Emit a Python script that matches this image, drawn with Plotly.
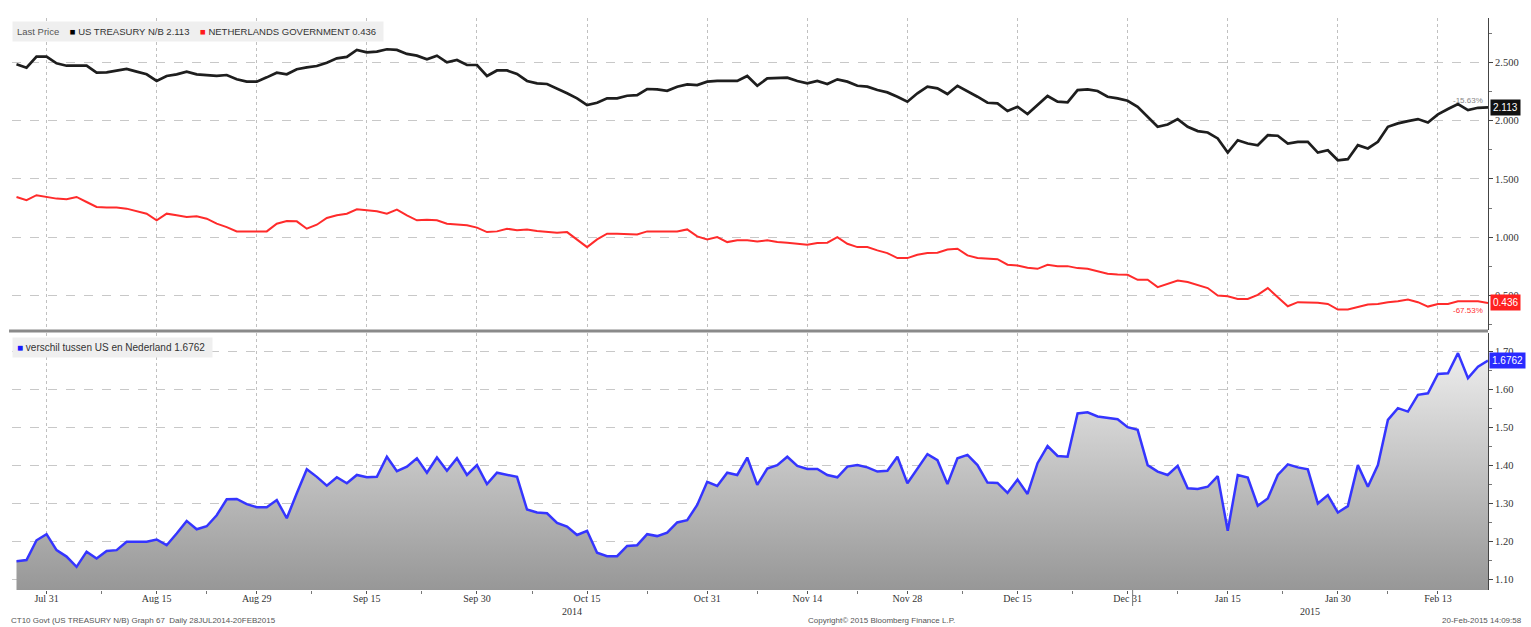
import pandas as pd
import plotly.graph_objects as go

# ---------------- data ----------------
holidays = ["2014-12-25", "2015-01-01"]
dates = [d for d in pd.bdate_range("2014-07-28", "2015-02-20").strftime("%Y-%m-%d") if d not in holidays]

us_yield = [
    2.483, 2.454, 2.549, 2.549, 2.491, 2.471, 2.471, 2.471, 2.411, 2.414,
    2.428, 2.443, 2.420, 2.397, 2.340, 2.383, 2.397, 2.420, 2.397, 2.391,
    2.383, 2.391, 2.354, 2.334, 2.334, 2.371, 2.411, 2.397, 2.440, 2.457,
    2.468, 2.497, 2.534, 2.546, 2.606, 2.586, 2.592, 2.612, 2.606, 2.572,
    2.557, 2.526, 2.557, 2.500, 2.520, 2.477, 2.477, 2.383, 2.430, 2.430,
    2.400, 2.340, 2.319, 2.314, 2.277, 2.234, 2.191, 2.133, 2.153, 2.191,
    2.191, 2.213, 2.219, 2.271, 2.268, 2.256, 2.291, 2.311, 2.305, 2.334,
    2.340, 2.340, 2.340, 2.383, 2.299, 2.362, 2.368, 2.368, 2.340, 2.319,
    2.340, 2.314, 2.354, 2.334, 2.299, 2.291, 2.262, 2.242, 2.205, 2.162,
    2.234, 2.291, 2.277, 2.228, 2.299, 2.254, 2.205, 2.153, 2.148, 2.082,
    2.119, 2.056, 2.133, 2.211, 2.162, 2.156, 2.262, 2.268, 2.254, 2.205,
    2.191, 2.170, 2.119, 2.033, 1.947, 1.967, 2.013, 1.947, 1.910, 1.898,
    1.847, 1.726, 1.832, 1.804, 1.789, 1.875, 1.870, 1.804, 1.818, 1.818,
    1.726, 1.746, 1.660, 1.669, 1.789, 1.761, 1.818, 1.947, 1.976, 1.996,
    2.013, 1.984, 2.053, 2.099, 2.142, 2.090, 2.110, 2.113,
]

nl_yield = [
    1.345, 1.317, 1.360, 1.345, 1.331, 1.325, 1.345, 1.302, 1.259, 1.254,
    1.254, 1.245, 1.225, 1.202, 1.145, 1.202, 1.188, 1.173, 1.179, 1.159,
    1.116, 1.087, 1.050, 1.050, 1.050, 1.050, 1.116, 1.139, 1.136, 1.073,
    1.107, 1.165, 1.188, 1.202, 1.239, 1.231, 1.222, 1.202, 1.236, 1.188,
    1.145, 1.150, 1.145, 1.116, 1.107, 1.102, 1.082, 1.044, 1.050, 1.073,
    1.059, 1.067, 1.053, 1.044, 1.039, 1.044, 0.981, 0.915, 0.981, 1.030,
    1.030, 1.030, 1.024, 1.050, 1.050, 1.044, 1.050, 1.067, 1.007, 0.981,
    1.001, 0.958, 0.973, 0.973, 0.964, 0.973, 0.958, 0.953, 0.944, 0.936,
    0.950, 0.953, 1.001, 0.944, 0.915, 0.915, 0.887, 0.864, 0.821, 0.821,
    0.850, 0.864, 0.867, 0.895, 0.901, 0.844, 0.821, 0.815, 0.812, 0.764,
    0.758, 0.738, 0.729, 0.764, 0.752, 0.752, 0.735, 0.729, 0.706, 0.686,
    0.681, 0.678, 0.635, 0.635, 0.572, 0.600, 0.629, 0.615, 0.592, 0.564,
    0.500, 0.494, 0.471, 0.471, 0.506, 0.564, 0.486, 0.408, 0.443, 0.443,
    0.437, 0.428, 0.380, 0.380, 0.400, 0.423, 0.428, 0.443, 0.451, 0.466,
    0.443, 0.405, 0.428, 0.428, 0.451, 0.451, 0.451, 0.436,
]

spread = [
    1.148, 1.151, 1.203, 1.219, 1.177, 1.160, 1.133, 1.173, 1.155, 1.175,
    1.177, 1.199, 1.199, 1.199, 1.205, 1.190, 1.221, 1.254, 1.232, 1.240,
    1.269, 1.311, 1.312, 1.298, 1.290, 1.290, 1.309, 1.261, 1.327, 1.390,
    1.370, 1.347, 1.369, 1.353, 1.375, 1.369, 1.370, 1.423, 1.385, 1.397,
    1.419, 1.381, 1.421, 1.386, 1.419, 1.375, 1.401, 1.351, 1.381, 1.375,
    1.370, 1.284, 1.276, 1.274, 1.249, 1.239, 1.217, 1.228, 1.170, 1.161,
    1.161, 1.188, 1.190, 1.219, 1.214, 1.223, 1.250, 1.256, 1.296, 1.357,
    1.346, 1.381, 1.375, 1.421, 1.349, 1.392, 1.401, 1.423, 1.399, 1.391,
    1.391, 1.375, 1.369, 1.397, 1.401, 1.395, 1.384, 1.386, 1.423, 1.353,
    1.392, 1.430, 1.414, 1.351, 1.419, 1.428, 1.401, 1.355, 1.354, 1.328,
    1.363, 1.325, 1.406, 1.451, 1.425, 1.423, 1.537, 1.540, 1.529, 1.526,
    1.522, 1.501, 1.494, 1.401, 1.384, 1.375, 1.399, 1.340, 1.338, 1.344,
    1.372, 1.228, 1.375, 1.368, 1.294, 1.313, 1.375, 1.403, 1.395, 1.390,
    1.300, 1.322, 1.276, 1.293, 1.401, 1.344, 1.401, 1.520, 1.551, 1.542,
    1.586, 1.590, 1.641, 1.643, 1.696, 1.630, 1.660, 1.6762,
]

tick_dates = ["2014-07-31", "2014-08-15", "2014-08-29", "2014-09-15", "2014-09-30",
              "2014-10-15", "2014-10-31", "2014-11-14", "2014-11-28", "2014-12-15",
              "2014-12-31", "2015-01-15", "2015-01-30", "2015-02-13"]
tick_labels = ["Jul 31", "Aug 15", "Aug 29", "Sep 15", "Sep 30", "Oct 15", "Oct 31",
               "Nov 14", "Nov 28", "Dec 15", "Dec 31", "Jan 15", "Jan 30", "Feb 13"]

top_ticks = [0.5, 1.0, 1.5, 2.0, 2.5]
bottom_ticks = [1.1, 1.2, 1.3, 1.4, 1.5, 1.6, 1.7]

# ---------------- derived positions ----------------
xi = list(range(len(dates)))
tickvals = [dates.index(d) for d in tick_dates]
minor_vals = [(a + b) / 2 for a, b in zip(tickvals[:-1], tickvals[1:])]
last_idx = len(dates) - 1
year_break = dates.index("2014-12-31") + 0.5
x_range = [-0.45, last_idx]

TICKFONT = dict(family="Liberation Serif", size=10, color="#333333")
YTICKFONT = dict(family="Liberation Serif", size=10.5, color="#333333")
SANS = "Liberation Sans"
SP = "&nbsp;"

fig = go.Figure()

fig.add_trace(go.Scatter(x=xi, y=us_yield, mode="lines", xaxis="x", yaxis="y",
                         line=dict(color="#1e1e1e", width=2.7), showlegend=False))
fig.add_trace(go.Scatter(x=xi, y=nl_yield, mode="lines", xaxis="x", yaxis="y",
                         line=dict(color="#ff2b2b", width=2), showlegend=False))
fig.add_trace(go.Scatter(x=xi, y=spread, mode="lines", xaxis="x2", yaxis="y2",
                         fill="tozeroy",
                         fillgradient=dict(type="vertical", start=1.072, stop=1.749,
                                           colorscale=[[0, "#979797"], [1, "#f4f4f4"]]),
                         line=dict(color="#3535ff", width=2.5), showlegend=False))

grid = dict(showgrid=True, gridcolor="#c0c0c0", griddash="dot", gridwidth=1)

fig.update_layout(
    width=1531, height=627,
    margin=dict(l=12, r=38, t=18, b=37),
    paper_bgcolor="white", plot_bgcolor="white",
    xaxis=dict(domain=[0, 1], anchor="y", range=x_range, tickmode="array",
               tickvals=tickvals, showticklabels=False, ticks="", zeroline=False,
               showline=False, matches="x2", **grid),
    xaxis2=dict(domain=[0, 1], anchor="y2", range=x_range, tickmode="array",
                tickvals=tickvals, ticktext=tick_labels, ticks="outside", ticklen=3,
                tickcolor="#555", tickfont=TICKFONT, zeroline=False, showline=False,
                ticklabelstandoff=-4,
                minor=dict(tickvals=minor_vals, ticks="outside", ticklen=3, tickcolor="#777",
                           showgrid=False),
                **grid),
    yaxis=dict(domain=[0.4545, 1], anchor="x", side="right", range=[0.204, 2.88],
               tickmode="array", tickvals=top_ticks, tickformat=".3f",
               showline=True, linecolor="#444", linewidth=1, ticks="outside", ticklen=4,
               tickcolor="#444", tickfont=YTICKFONT, zeroline=False,
               minor=dict(dtick=0.25, tick0=0, ticks="outside", ticklen=3, tickcolor="#777",
                          showgrid=False),
               gridcolor="#c8c8c8", griddash="dash", showgrid=True),
    yaxis2=dict(domain=[0, 0.4493], anchor="x2", side="right", range=[1.072, 1.749],
                tickmode="array", tickvals=bottom_ticks, tickformat=".2f",
                showline=True, linecolor="#444", linewidth=1, ticks="outside", ticklen=4,
                tickcolor="#444", tickfont=YTICKFONT, zeroline=False,
                minor=dict(dtick=0.05, tick0=0, ticks="outside", ticklen=3, tickcolor="#777",
                           showgrid=False),
                gridcolor="#c8c8c8", griddash="dash", showgrid=True),
)

# separator between panels
fig.add_shape(type="line", xref="paper", yref="paper", x0=-0.002, x1=1, y0=0.4526, y1=0.4526,
              line=dict(color="#8a8a8a", width=3))
# year separator below axis
fig.add_shape(type="line", xref="x2", yref="paper", x0=year_break, x1=year_break, y0=0, y1=-0.028,
              line=dict(color="#777", width=1))

annotations = []
# legends
annotations.append(dict(
    xref="paper", yref="paper", x=0.0, y=0.977, xanchor="left", yanchor="middle",
    text=(f"<span style='color:#555'>Last Price</span>{SP*4}<span style='color:#000'>■</span> "
          f"US TREASURY N/B 2.113{SP*4}<span style='color:#ff1a1a'>■</span> "
          f"NETHERLANDS GOVERNMENT 0.436{SP}"),
    showarrow=False, bgcolor="#efefef", borderpad=4,
    font=dict(family=SANS, size=9.5, color="#333")))
annotations.append(dict(
    xref="paper", yref="paper", x=0.0, y=0.4245, xanchor="left", yanchor="middle",
    text=f"<span style='color:#1a1aff'>■</span>{SP}verschil tussen US en Nederland 1.6762{SP}",
    showarrow=False, bgcolor="#efefef", borderpad=4,
    font=dict(family=SANS, size=10, color="#333")))

# last-value labels on right axis
annotations.append(dict(xref="paper", yref="y", x=1.0015, y=us_yield[-1], xanchor="left",
                        yanchor="middle", text="2.113", showarrow=False, bgcolor="#111",
                        font=dict(family=SANS, size=10, color="white"), borderpad=2))
annotations.append(dict(xref="paper", yref="y", x=1.0015, y=nl_yield[-1], xanchor="left",
                        yanchor="middle", text="0.436", showarrow=False, bgcolor="#ff2020",
                        font=dict(family=SANS, size=10, color="white"), borderpad=2))
annotations.append(dict(xref="paper", yref="y2", x=1.0005, y=spread[-1], xanchor="left",
                        yanchor="middle", text="1.6762", showarrow=False, bgcolor="#2a2aff",
                        font=dict(family=SANS, size=10, color="white"), borderpad=2))
# percent change labels
annotations.append(dict(xref="paper", yref="y", x=0.998, y=2.17, xanchor="right",
                        yanchor="middle", text="-15.63%", showarrow=False,
                        font=dict(family=SANS, size=8, color="#888")))
annotations.append(dict(xref="paper", yref="y", x=0.998, y=0.37, xanchor="right",
                        yanchor="middle", text="-67.53%", showarrow=False,
                        font=dict(family=SANS, size=8, color="#ff3030")))
# year labels
annotations.append(dict(xref="x2", yref="paper", x=(x_range[0] + year_break) / 2, y=-0.024,
                        xanchor="center", yanchor="top", text="2014", showarrow=False,
                        font=TICKFONT))
annotations.append(dict(xref="x2", yref="paper", x=(year_break + last_idx) / 2, y=-0.024,
                        xanchor="center", yanchor="top", text="2015", showarrow=False,
                        font=TICKFONT))
# footer
annotations.append(dict(xref="paper", yref="paper", x=-0.002, y=-0.054, xanchor="left",
                        yanchor="middle",
                        text="CT10 Govt (US TREASURY N/B) Graph 67  Daily 28JUL2014-20FEB2015",
                        showarrow=False, font=dict(family=SANS, size=8, color="#555")))
annotations.append(dict(xref="paper", yref="paper", x=0.589, y=-0.054, xanchor="center",
                        yanchor="middle", text="Copyright© 2015 Bloomberg Finance L.P.",
                        showarrow=False, font=dict(family=SANS, size=8, color="#555")))
annotations.append(dict(xref="paper", yref="paper", x=1.0245, y=-0.054, xanchor="right",
                        yanchor="middle", text="20-Feb-2015 14:09:58",
                        showarrow=False, font=dict(family=SANS, size=8, color="#555")))

fig.update_layout(annotations=annotations)

fig.write_html("out.html", config={"displayModeBar": False},
               post_script="document.body.style.margin='0';document.body.style.padding='0';")
